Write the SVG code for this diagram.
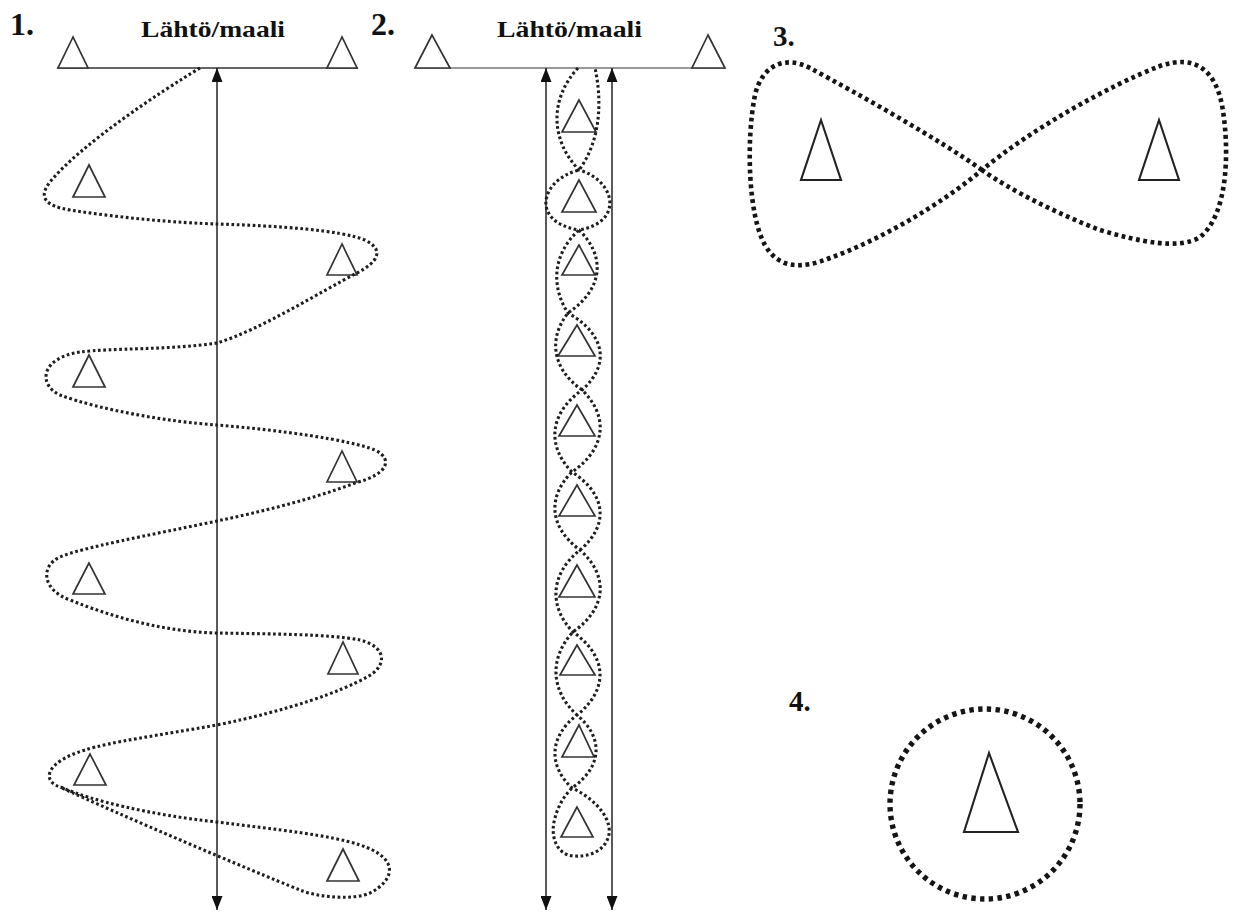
<svg xmlns="http://www.w3.org/2000/svg" width="1235" height="913" viewBox="0 0 1235 913">
<style>
.lbl{font-family:"Liberation Serif","Times New Roman",serif;font-weight:bold;fill:#111}
.num{font-size:32px}
.num2{font-size:29px}
.title{font-size:24px}
.cone{fill:#fff;stroke:#333;stroke-width:1.7;stroke-linejoin:miter}
.cone2{fill:#fff;stroke:#222;stroke-width:2.1}
.axis{stroke:#222;stroke-width:1.5;fill:none}
.dots{fill:none;stroke:#1e1e1e;stroke-width:3.1;stroke-dasharray:2.7 2.6}
.dots3{fill:none;stroke:#151515;stroke-width:4.6;stroke-dasharray:3.8 3.6}
.dots4{fill:none;stroke:#151515;stroke-width:5.4;stroke-dasharray:4.4 4.4}
</style>
<defs>
<marker id="arr" viewBox="0 0 14 11" refX="14" refY="5.5" markerWidth="14" markerHeight="11" markerUnits="userSpaceOnUse" orient="auto-start-reverse">
<path d="M0,0 L14,5.5 L0,11 z" fill="#111"/>
</marker>
</defs>
<rect width="1235" height="913" fill="#fff"/>

<g id="labels">
<text class="lbl num" x="10" y="35">1.</text>
<text class="lbl num" x="371" y="35">2.</text>
<text class="lbl num2" x="773" y="46">3.</text>
<text class="lbl num2" x="789" y="711">4.</text>
<text class="lbl title" x="141" y="37" textLength="144" lengthAdjust="spacingAndGlyphs">Lähtö/maali</text>
<text class="lbl title" x="497" y="37" textLength="145" lengthAdjust="spacingAndGlyphs">Lähtö/maali</text>
</g>

<g id="start-lines">
<line x1="57" y1="68" x2="358" y2="68" stroke="#333" stroke-width="1.7"/>
<line x1="415" y1="68" x2="725" y2="68" stroke="#777" stroke-width="1.7"/>
</g>

<g id="d1-cones">
<g id="d1-start-left"><polygon class="cone" points="73,37 58,68 88,68"/></g>
<g id="d1-start-right"><polygon class="cone" points="342,37 327,68 357,68"/></g>
<g id="d1-c1"><polygon class="cone" points="89,165 73,197 105,197"/></g>
<g id="d1-c2"><polygon class="cone" points="342,244 327,275 357,275"/></g>
<g id="d1-c3"><polygon class="cone" points="89,355 73,387 105,387"/></g>
<g id="d1-c4"><polygon class="cone" points="342,451 327,482 357,482"/></g>
<g id="d1-c5"><polygon class="cone" points="89,563 73,594 105,594"/></g>
<g id="d1-c6"><polygon class="cone" points="343,642 328,674 358,674"/></g>
<g id="d1-c7"><polygon class="cone" points="90,754 74,785 106,785"/></g>
<g id="d1-c8"><polygon class="cone" points="343,849 327,881 359,881"/></g>
</g>

<g id="d2-cones">
<g id="d2-start-left"><polygon class="cone" points="432,35 415,68 450,68"/></g>
<g id="d2-start-right"><polygon class="cone" points="708,35 692,68 725,68"/></g>
<g id="d2-c1"><polygon class="cone" points="579,100 562,132 596,132"/></g>
<g id="d2-c2"><polygon class="cone" points="579,180 562,212 596,212"/></g>
<g id="d2-c3"><polygon class="cone" points="579,245 562,275 595,275"/></g>
<g id="d2-c4"><polygon class="cone" points="577,325 558,356 595,356"/></g>
<g id="d2-c5"><polygon class="cone" points="577,405 559,436 595,436"/></g>
<g id="d2-c6"><polygon class="cone" points="577,485 559,516 595,516"/></g>
<g id="d2-c7"><polygon class="cone" points="577,565 559,597 595,597"/></g>
<g id="d2-c8"><polygon class="cone" points="577,645 560,675 595,675"/></g>
<g id="d2-c9"><polygon class="cone" points="579,725 562,757 594,757"/></g>
<g id="d2-c10"><polygon class="cone" points="577,807 561,837 593,837"/></g>
</g>

<g id="d3-cones">
<g id="d3-left"><polygon class="cone2" points="821,120 801,180 841,180"/></g>
<g id="d3-right"><polygon class="cone2" points="1159,120 1139,180 1179,180"/></g>
</g>

<g id="d4-cone">
<polygon class="cone2" points="989,753 964,832 1018,832"/>
</g>

<g id="connectors">
<line class="axis" x1="217" y1="68" x2="217" y2="910" marker-start="url(#arr)" marker-end="url(#arr)"/>
<line class="axis" x1="546" y1="68" x2="546" y2="910" marker-start="url(#arr)" marker-end="url(#arr)"/>
<line class="axis" x1="612" y1="68" x2="612" y2="910" marker-start="url(#arr)" marker-end="url(#arr)"/>

<path id="d1-route" class="dots" d="M200,68 C160,92 80,145 50,182 C38,197 45,206 70,210 C120,218 180,223 217,224 C280,226 340,230 365,240 C385,250 378,262 357,273 C320,292 260,330 217,343 C170,350 110,348 80,352 C40,358 38,385 60,395 C100,410 170,422 217,425 C280,430 350,440 375,450 C395,460 385,475 358,482 C310,500 260,512 217,521 C150,535 80,548 60,557 C40,566 42,590 70,600 C120,620 170,632 217,633 C270,634 330,634 360,640 C390,648 385,668 367,677 C340,692 290,710 217,725 C160,735 110,742 85,750 C45,762 40,782 63,788 C90,800 150,815 217,822 C280,830 330,835 360,845 C400,858 395,880 370,893 C355,900 320,898 300,890 C250,870 120,815 60,787"/>

<path id="d2-route" class="dots" d="M578,68 C549.8,98.6 549.8,139.4 579,170 C615,180 625,222 579,230 C551.5,254.9 551.5,288.1 568,313 C608.3,336.1 608.3,366.9 582,390 C547.7,414.6 547.7,447.4 572,472 C608,495.4 608,526.6 580,550 C549.2,574.6 549.2,607.4 573,632 C608.3,656.9 608.3,690.1 577,715 C548.5,736.9 548.5,766.1 572,788 C598,800 614,822 608,838 C603,852 588,857 574,856 C556,855 551,836 554,822 C557,808 563,797 572,788 C603.2,766.1 603.2,736.9 577,715 C549.7,690.1 549.7,656.9 573,632 C608,607.4 608,574.6 580,550 C548,526.6 548,495.4 572,472 C607.7,447.4 607.7,414.6 582,390 C549.7,366.9 549.7,336.1 568,313 C604.8,288.1 604.8,254.9 579,230 C530,222 540,180 579,170 C601.7,139.4 601.7,98.6 595,68"/>

<path id="d3-route" class="dots3" d="M982,170 C940,140 860,95 810,68 C785,55 762,65 755,95 C746,140 748,215 765,245 C778,268 800,270 830,258 C880,240 940,205 982,170 C1030,130 1110,85 1160,66 C1195,54 1215,70 1222,105 C1230,150 1228,215 1200,237 C1180,250 1140,242 1100,230 C1060,215 1010,190 982,170 Z"/>

<circle id="d4-route" class="dots4" cx="985" cy="804" r="95"/>
</g>
</svg>
